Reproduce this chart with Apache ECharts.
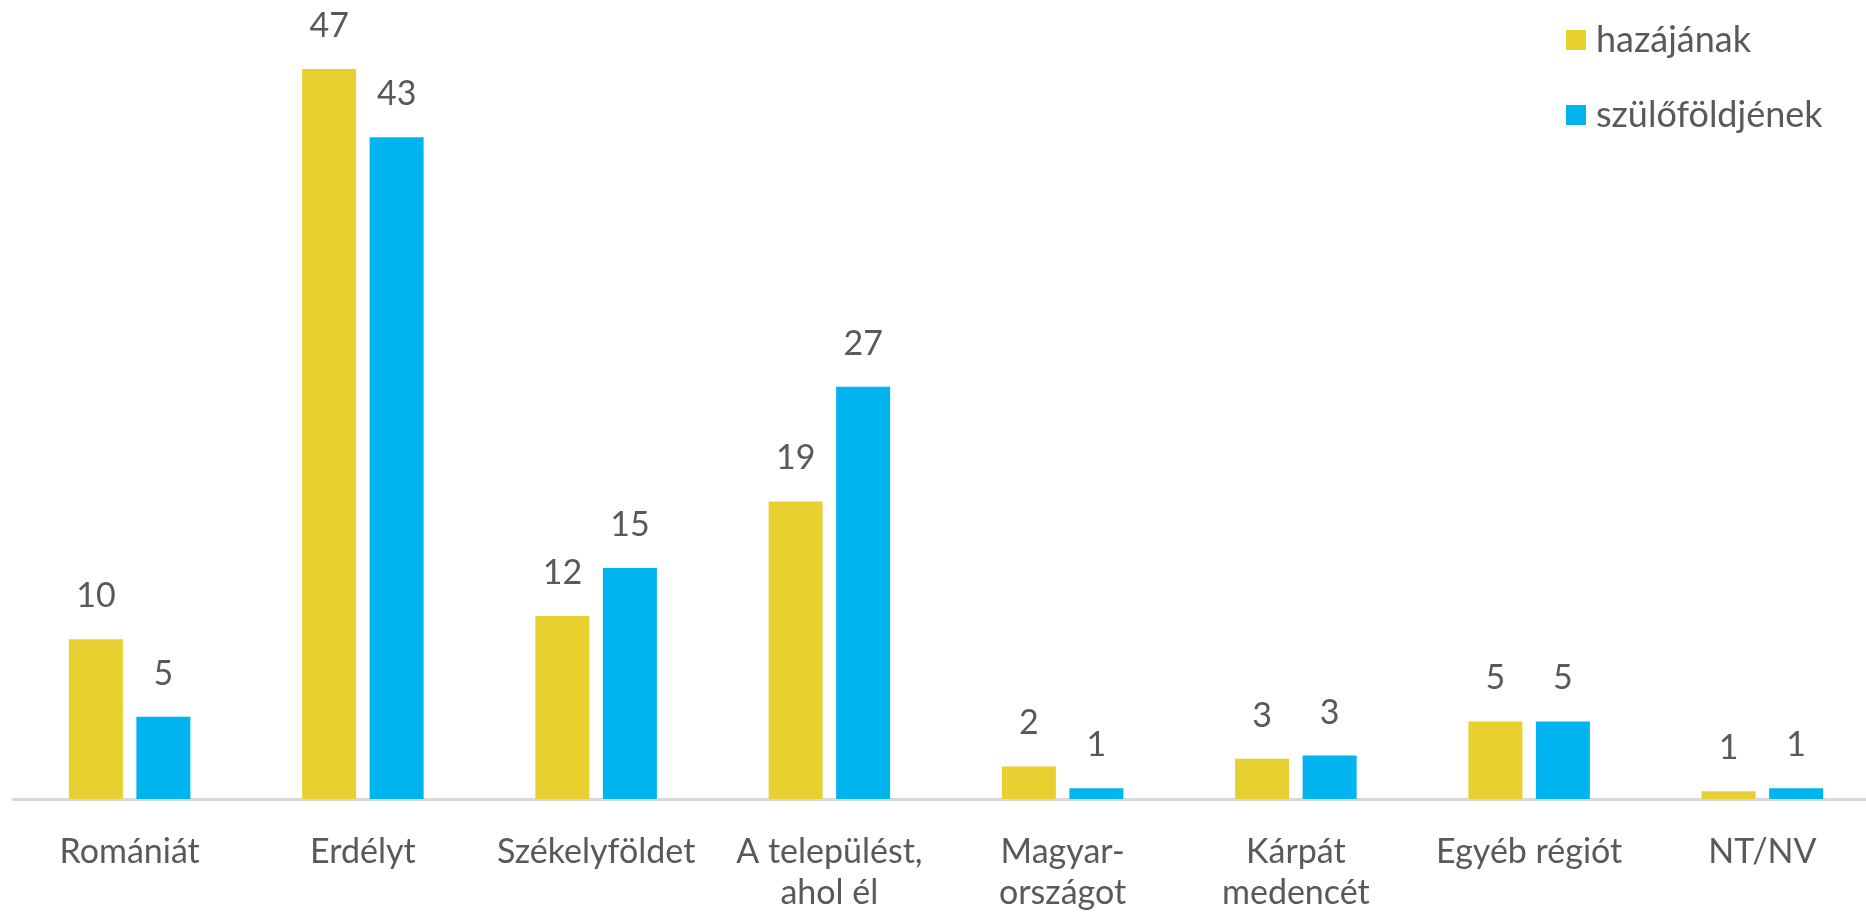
<!DOCTYPE html>
<html>
<head>
<meta charset="utf-8">
<script src="https://cdn.jsdelivr.net/npm/echarts@6/dist/echarts.min.js"></script>
<style>
  html, body { margin: 0; padding: 0; background: #fff; overflow: hidden; }
  #chart { width: 1880px; height: 922px; }
</style>
</head>
<body>
<div id="chart"></div>
<script>
// categories and values (bar heights, labels are rounded)
const categories = ['Romániát', 'Erdélyt', 'Székelyföldet', 'A települést,\nahol él',
  'Magyar-\nországot', 'Kárpát\nmedencét', 'Egyéb régiót', 'NT/NV'];
const hazajanak = [10.3, 47.1, 11.8, 19.2, 2.1, 2.6, 5.0, 0.5];
const szulofoldjenek = [5.3, 42.7, 14.9, 26.6, 0.7, 2.8, 5.0, 0.7];

const textColor = '#595959';
const fontName = 'Lato';

var dom = document.getElementById('chart');
var myChart = echarts.init(dom, null, { renderer: 'canvas' });

var labelOpt = {
  show: true,
  position: 'top',
  distance: 26,
  color: textColor,
  fontFamily: fontName,
  fontSize: 34,
  formatter: function (p) { return Math.round(p.value); }
};

// the plot runs a little past the right edge of the picture, so the div is wider than the window
var option = {
  animation: false,
  backgroundColor: '#fff',
  legend: {
    orient: 'vertical',
    left: 1561,
    top: 17,
    itemWidth: 20,
    itemHeight: 20,
    itemGap: 39,
    icon: 'rect',
    textStyle: { color: textColor, fontFamily: fontName, fontSize: 36, padding: [0, 0, 0, 5] },
    data: ['hazájának', 'szülőföldjének']
  },
  grid: {
    left: 13,
    right: 1,
    top: 24,
    bottom: 123
  },
  xAxis: {
    type: 'category',
    data: categories,
    axisTick: { show: false },
    axisLine: { lineStyle: { color: '#d9d9d9', width: 3 } },
    axisLabel: {
      interval: 0,
      margin: 33,
      color: textColor,
      fontFamily: fontName,
      fontSize: 34,
      lineHeight: 41
    }
  },
  yAxis: {
    type: 'value',
    min: 0,
    max: 50,
    show: false,
    splitLine: { show: false }
  },
  series: [
    {
      name: 'hazájának',
      type: 'bar',
      data: hazajanak,
      barWidth: 54,
      barGap: '25%',
      itemStyle: { color: '#E8D030' },
      label: labelOpt
    },
    {
      name: 'szülőföldjének',
      type: 'bar',
      data: szulofoldjenek,
      barWidth: 54,
      itemStyle: { color: '#00B4EF' },
      label: labelOpt
    }
  ]
};

myChart.setOption(option);
window.addEventListener('resize', myChart.resize);
</script>
</body>
</html>
